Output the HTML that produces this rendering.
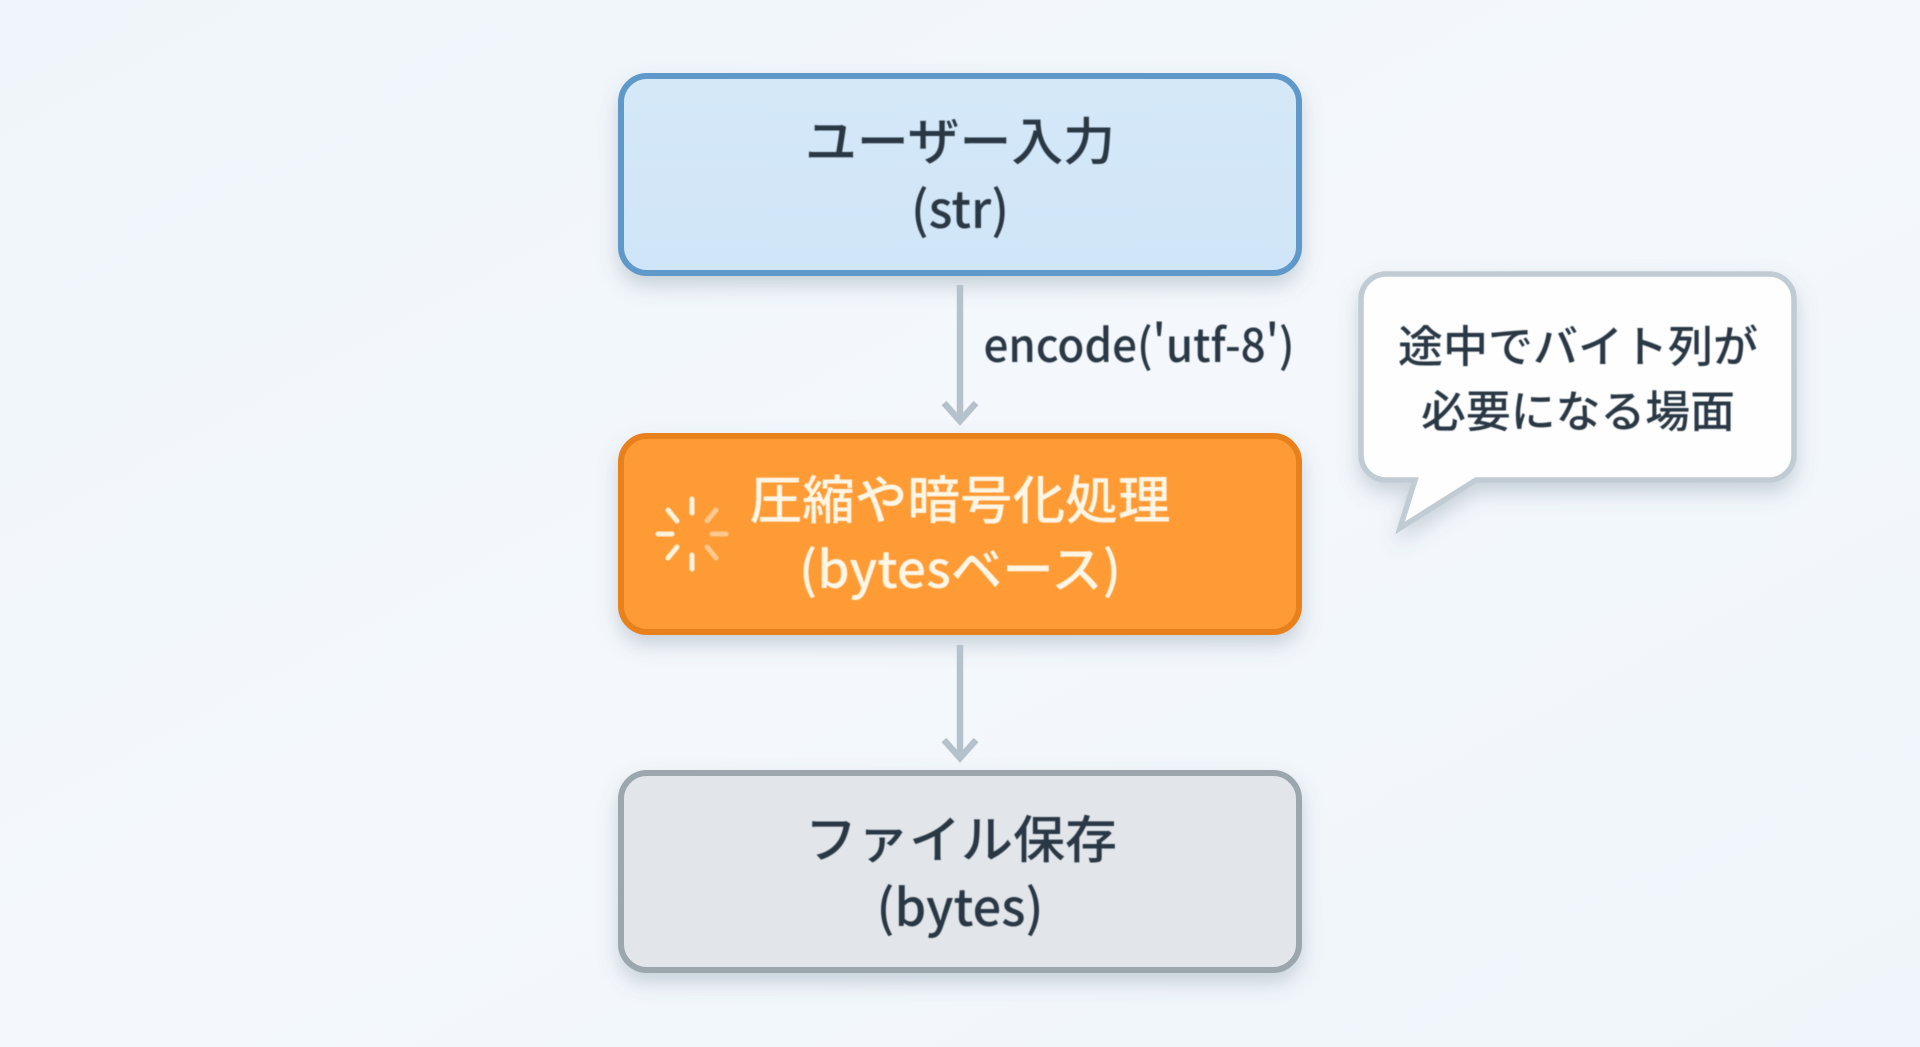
<!DOCTYPE html>
<html lang="ja"><head><meta charset="utf-8"><title>bytes flow</title>
<style>
html,body{margin:0;padding:0;width:1920px;height:1047px;overflow:hidden;background:#f2f7fb}
svg{display:block}
text{font-family:"Liberation Sans","Noto Sans CJK JP",sans-serif}
.j{font-family:"Noto Sans CJK JP","Liberation Sans",sans-serif;text-anchor:middle;font-weight:500}
</style></head><body>
<svg width="1920" height="1047" viewBox="0 0 1920 1047" xmlns="http://www.w3.org/2000/svg">
<defs>
<linearGradient id="bg" x1="0" y1="0" x2="1" y2="1"><stop offset="0" stop-color="#eff5fa"/><stop offset=".5" stop-color="#f4f8fc"/><stop offset="1" stop-color="#eff5fa"/></linearGradient>
<linearGradient id="f1" x1="0" y1="0" x2="0" y2="1"><stop offset="0" stop-color="#d4e8f8"/><stop offset="1" stop-color="#d0e5f7"/></linearGradient>
<filter id="sh" x="-10%" y="-20%" width="120%" height="150%"><feDropShadow dx="0" dy="10" stdDeviation="10" flood-color="#5a6e82" flood-opacity=".28"/></filter>
<filter id="soft"><feGaussianBlur stdDeviation=".5"/></filter>
</defs>
<rect width="1920" height="1047" fill="url(#bg)"/>
<g filter="url(#sh)"><rect x="621" y="76" width="678" height="197" rx="26" fill="url(#f1)" stroke="#5e99c9" stroke-width="6"/></g>
<g filter="url(#sh)"><rect x="621" y="436" width="678" height="196" rx="26" fill="#fe9b36" stroke="#e8811c" stroke-width="6"/></g>
<g filter="url(#sh)"><rect x="621" y="773" width="678" height="197" rx="26" fill="#e2e6ea" stroke="#9ba6ad" stroke-width="6"/></g>
<g fill="none" stroke="#b5c1cb" stroke-width="6.5">
<path d="M960 285V420"/><path d="M944 403L960 421L976 403"/>
<path d="M960 645V759"/><path d="M944 740L960 758L976 740"/>
</g>
<g filter="url(#sh)"><path d="M1384 274H1769A25 25 0 0 1 1794 299V455A25 25 0 0 1 1769 480H1476L1400 528L1415 480H1386A25 25 0 0 1 1361 455V299A25 25 0 0 1 1386 274Z" fill="#fefefe" stroke="#c0cbd3" stroke-width="5.5" stroke-linejoin="miter"/></g>
<g stroke-linecap="round" stroke-width="5" stroke="#fff3dc" filter="url(#soft)">
<path d="M692 499V513"/><path d="M668 510L677 521"/><path d="M658 534H672"/><path d="M668 558L677 547"/><path d="M692 555V569"/>
<path d="M716 510L707 521" stroke="#ffc88c"/><path d="M712 534H726" stroke="#ffc88c"/><path d="M716 558L707 547" stroke="#ffc88c"/>
</g>
<g filter="url(#soft)">
<g fill="#2a3845">
<text class="j" x="960" y="160" font-size="51" textLength="310" lengthAdjust="spacingAndGlyphs">ユーザー入力</text>
<text class="j" x="960" y="228" font-size="51" textLength="98" lengthAdjust="spacingAndGlyphs">(str)</text>
<text class="j" x="1139" y="362" font-size="46" textLength="311" lengthAdjust="spacingAndGlyphs">encode('utf-8')</text>
<text class="j" x="961" y="858" font-size="51" textLength="312" lengthAdjust="spacingAndGlyphs">ファイル保存</text>
<text class="j" x="960" y="926" font-size="51" textLength="167" lengthAdjust="spacingAndGlyphs">(bytes)</text>
<text class="j" x="1578" y="362" font-size="44" textLength="360" lengthAdjust="spacingAndGlyphs">途中でバイト列が</text>
<text class="j" x="1578" y="427" font-size="44" textLength="314" lengthAdjust="spacingAndGlyphs">必要になる場面</text>
</g>
<g fill="#fff6e6">
<text class="j" x="960" y="519" font-size="52" textLength="421" lengthAdjust="spacingAndGlyphs">圧縮や暗号化処理</text>
<text class="j" x="960" y="588" font-size="51" textLength="322" lengthAdjust="spacingAndGlyphs">(bytesベース)</text>
</g>
</g>
</svg>
</body></html>
